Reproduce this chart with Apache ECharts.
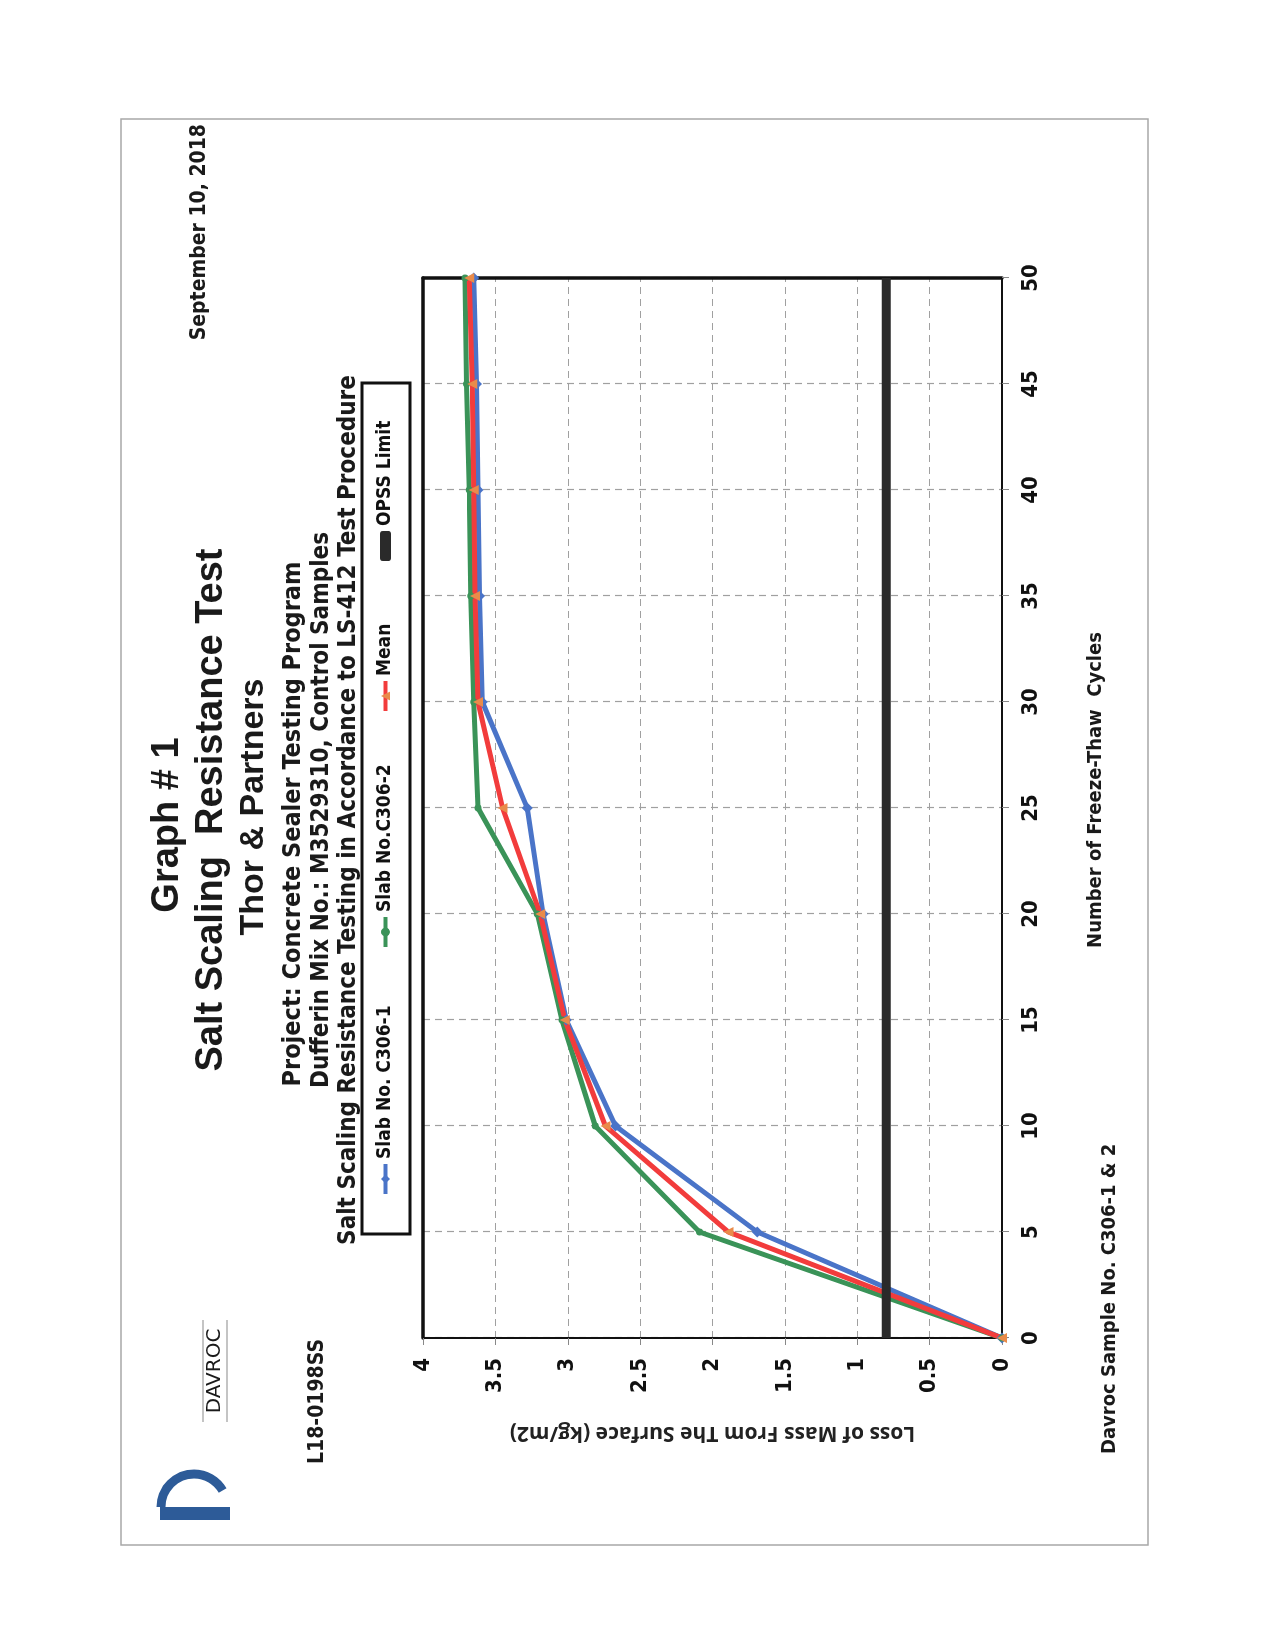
<!DOCTYPE html>
<html>
<head>
    <meta charset="utf-8">
    <title>Salt Scaling Resistance Test</title>
    <script src="https://cdn.jsdelivr.net/npm/echarts@6/dist/echarts.min.js"></script>
    <style>
        html, body { margin: 0; padding: 0; background: #fff; }
        body { width: 1275px; height: 1650px; position: relative; overflow: hidden; }
        /* the sheet is printed landscape and scanned turned a quarter */
        #main {
            position: absolute; left: 0; top: 0;
            width: 1650px; height: 1275px;
            transform-origin: 0 0;
            transform: translate(0, 1650px) rotate(-90deg);
        }
    </style>
</head>
<body>
<div id="main"></div>
<script type="text/javascript">
    // freeze-thaw cycles and loss of mass (kg/m2)
    var cycles = [0, 5, 10, 15, 20, 25, 30, 35, 40, 45, 50];
    var slab1 = [0, 1.69, 2.67, 3.01, 3.17, 3.28, 3.59, 3.61, 3.62, 3.63, 3.65];
    var slab2 = [0, 2.09, 2.81, 3.04, 3.21, 3.62, 3.65, 3.67, 3.68, 3.70, 3.71];
    var meanLoss = [0, 1.89, 2.74, 3.02, 3.19, 3.45, 3.62, 3.64, 3.65, 3.66, 3.68];
    var opssCycles = [0, 50];
    var opssLimit = [0.8, 0.8];
    var seriesNames = ['Slab No. C306-1', 'Slab No.C306-2', 'Mean', 'OPSS Limit'];

    var NARROW = "'Liberation Sans Narrow', 'DejaVu Sans Condensed', sans-serif";
    var ARIAL = "'Liberation Sans', Arial, sans-serif";

    // where each legend entry starts inside the legend box
    var legendLeft = [454, 701, 937, 1089];

    function pairs(xs, ys) {
        return xs.map(function (x, i) { return [x, ys[i]]; });
    }

    function txt(s, x, y, size, family, align, weight) {
        return {
            type: 'text', x: x, y: y, silent: true,
            style: {
                text: s, fill: '#1a1a1a',
                font: (weight || 'bold') + ' ' + size + 'px ' + family,
                textAlign: align || 'center', textVerticalAlign: 'middle'
            }
        };
    }

    var legendItems = [
        { name: seriesNames[0], lineStyle: { width: 4 } },
        { name: seriesNames[1], lineStyle: { width: 4 } },
        { name: seriesNames[2], lineStyle: { width: 4 } },
        { name: seriesNames[3], icon: 'roundRect', itemStyle: { color: '#2a2a2a' } }
    ];

    var legends = legendItems.map(function (item, i) {
        return {
            left: legendLeft[i], top: 376, padding: 0,
            itemWidth: 30, itemHeight: 11,
            textStyle: { fontFamily: NARROW, fontWeight: 'bold', fontSize: 19, color: '#111' },
            data: [item]
        };
    });

    var gridLine = { show: true, lineStyle: { color: '#a0a0a0', width: 1.2, type: [7, 5] } };
    var tickFont = { fontFamily: NARROW, fontWeight: 'bold', fontSize: 22, color: '#111' };
    var frameAxis = {
        show: true, onZero: false,
        lineStyle: { color: '#111', width: 3.5 }
    };

    var chartDom = document.getElementById('main');
    var myChart = echarts.init(chartDom, null, { renderer: 'canvas' });

    var option = {
        backgroundColor: '#fff',
        animation: false,
        grid: { left: 312, right: 278, top: 423, bottom: 273 },
        legend: legends,
        xAxis: [
            {
                type: 'value', min: 0, max: 50, interval: 5,
                axisLine: { show: true, onZero: false, lineStyle: { color: '#111', width: 2 } },
                axisTick: { show: true, length: 7, lineStyle: { color: '#888' } },
                axisLabel: Object.assign({ margin: 18 }, tickFont),
                splitLine: gridLine
            },
            {
                type: 'value', min: 0, max: 50, position: 'top',
                axisLine: frameAxis,
                axisTick: { show: false }, axisLabel: { show: false }, splitLine: { show: false }
            }
        ],
        yAxis: [
            {
                type: 'value', min: 0, max: 4, interval: 0.5,
                name: 'Loss of Mass From The Surface (kg/m2)',
                nameLocation: 'middle', nameRotate: 90, nameGap: 84,
                nameTextStyle: { fontFamily: "'Open Sans', sans-serif", fontWeight: 'bold', fontSize: 21, color: '#222' },
                axisLine: { show: true, onZero: false, lineStyle: { color: '#111', width: 2 } },
                axisTick: { show: true, length: 7, lineStyle: { color: '#888' } },
                axisLabel: Object.assign({ margin: 20 }, tickFont),
                splitLine: gridLine
            },
            {
                type: 'value', min: 0, max: 4, position: 'right',
                axisLine: frameAxis,
                axisTick: { show: false }, axisLabel: { show: false }, splitLine: { show: false }
            }
        ],
        series: [
            {
                name: seriesNames[0], type: 'line', data: pairs(cycles, slab1),
                symbol: 'diamond', symbolSize: 11,
                lineStyle: { color: '#4a74c8', width: 5 },
                itemStyle: { color: '#4a74c8' }
            },
            {
                name: seriesNames[1], type: 'line', data: pairs(cycles, slab2),
                symbol: 'circle', symbolSize: 7,
                lineStyle: { color: '#3a9358', width: 5 },
                itemStyle: { color: '#3a9358' }
            },
            {
                name: seriesNames[2], type: 'line', data: pairs(cycles, meanLoss),
                symbol: 'triangle', symbolSize: 10,
                lineStyle: { color: '#f23c3c', width: 5 },
                itemStyle: { color: '#e98b4a' }
            },
            {
                name: seriesNames[3], type: 'line', data: pairs(opssCycles, opssLimit),
                symbol: 'none',
                lineStyle: { color: '#2a2a2a', width: 9 },
                itemStyle: { color: '#2a2a2a' }
            }
        ],
        graphic: [
            // page frame
            {
                type: 'rect', silent: true,
                shape: { x: 105, y: 121, width: 1426, height: 1027 },
                style: { fill: 'none', stroke: '#a8a8a8', lineWidth: 1.5 }
            },
            // legend box
            {
                type: 'rect', silent: true,
                shape: { x: 416, y: 362, width: 851, height: 48 },
                style: { fill: 'none', stroke: '#111', lineWidth: 3 }
            },
            // logo
            {
                type: 'rect', silent: true,
                shape: { x: 130, y: 160, width: 13, height: 70 },
                style: { fill: '#2d5b98' }
            },
            {
                type: 'arc', silent: true,
                shape: { cx: 143, cy: 194, r: 33, startAngle: -Math.PI / 2, endAngle: Math.PI / 3, clockwise: true },
                style: { fill: 'none', stroke: '#2d5b98', lineWidth: 9 }
            },
            {
                type: 'line', silent: true,
                shape: { x1: 228, y1: 203, x2: 330, y2: 203 },
                style: { stroke: '#8a8a8a', lineWidth: 1.2 }
            },
            {
                type: 'line', silent: true,
                shape: { x1: 228, y1: 227, x2: 330, y2: 227 },
                style: { stroke: '#8a8a8a', lineWidth: 1.2 }
            },
            txt('DAVROC', 279, 215, 20, "'DejaVu Sans', sans-serif", 'center', 'normal'),
            txt('L18-0198SS', 186, 318, 21, NARROW, 'left'),
            txt('September 10, 2018', 1526, 200, 21, NARROW, 'right'),
            txt('Graph # 1', 825, 168, 38, ARIAL),
            txt('Salt Scaling  Resistance Test', 840, 212, 38, ARIAL),
            txt('Thor & Partners', 843, 254, 34, ARIAL),
            txt('Project: Concrete Sealer Testing Program', 826, 293, 25, NARROW),
            txt('Dufferin Mix No.: M3529310, Control Samples', 840, 322, 24, NARROW),
            txt('Salt Scaling Resistance Testing in Accordance to LS-412 Test Procedure', 840, 349, 24, NARROW),
            txt('Number of Freeze-Thaw  Cycles', 860, 1096, 20, NARROW),
            txt('Davroc Sample No. C306-1 & 2', 196, 1110, 20, NARROW, 'left')
        ]
    };

    option && myChart.setOption(option);
</script>
</body>
</html>
